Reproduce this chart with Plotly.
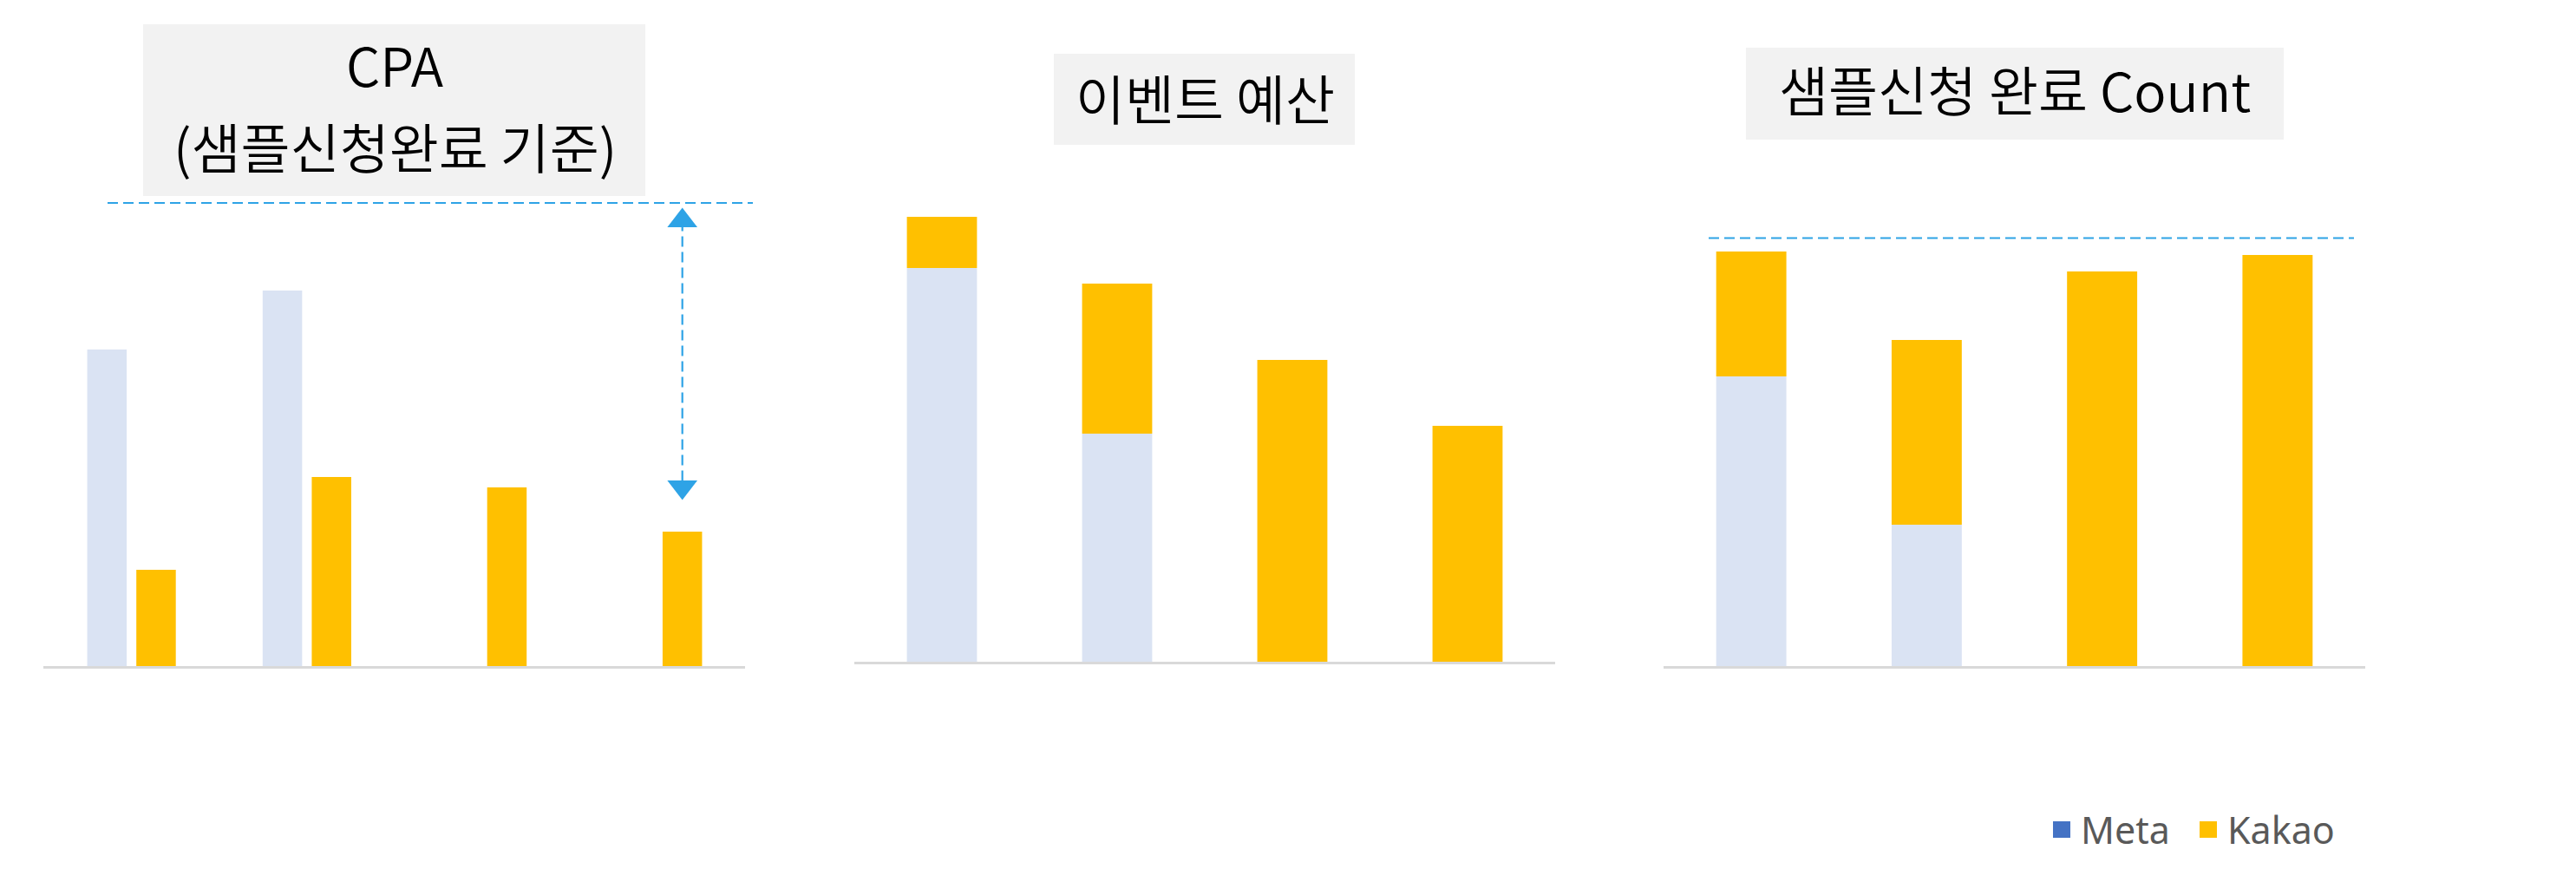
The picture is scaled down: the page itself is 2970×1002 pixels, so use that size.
import plotly.graph_objects as go

W, H = 2970, 1002
PAD = 8                      # default page margin around the plot div
FW, FH = W - 2 * PAD, H - 2 * PAD

# ---------------- data ----------------
categories = ["1", "2", "3", "4"]

cpa_meta = [3650, 4330, None, None]
cpa_kakao = [1110, 2180, 2060, 1550]
cpa_ref = 5340          # dashed reference level
cpa_arrow_end = 1860    # bottom tip of the double arrow

budget_meta = [4540, 2630, 0, 0]
budget_kakao = [590, 1730, 3480, 2720]

count_meta = [334, 163, 0, 0]
count_kakao = [144, 213, 455, 474]
count_ref = 493.5

titles = ["CPA", "(샘플신청완료 기준)", "이벤트 예산", "샘플신청 완료 Count"]
legend_names = ["Meta", "Kakao"]

# ---------------- style ----------------
META = "#DAE3F3"
KAKAO = "#FFC000"
META_LEG = "#4472C4"
REF = "#2EA3E6"
AXIS = "#D9D9D9"
BOX = "#F2F2F2"
TFONT = "Noto Sans CJK KR"

xpos = list(range(len(categories)))  # category index positions


def px(x):
    return (x - PAD) / FW


def py(y):
    return 1 - (y - PAD) / FH


fig = go.Figure()

# chart 1 : grouped bars
fig.add_bar(x=xpos, y=cpa_meta, width=0.225, offset=-0.25,
            marker=dict(color=META, line=dict(width=0)), xaxis="x", yaxis="y",
            name=legend_names[0], showlegend=False, hovertext=categories)
fig.add_bar(x=xpos, y=cpa_kakao, width=0.225, offset=0.03,
            marker=dict(color=KAKAO, line=dict(width=0)), xaxis="x", yaxis="y",
            name=legend_names[1], showlegend=False, hovertext=categories)

# chart 2 : stacked bars
fig.add_bar(x=xpos, y=budget_meta, width=0.4, offset=-0.2,
            marker=dict(color=META, line=dict(width=0)), xaxis="x2", yaxis="y2",
            name=legend_names[0], showlegend=False, hovertext=categories)
fig.add_bar(x=xpos, y=budget_kakao, base=budget_meta, width=0.4, offset=-0.2,
            marker=dict(color=KAKAO, line=dict(width=0)), xaxis="x2", yaxis="y2",
            name=legend_names[1], showlegend=False, hovertext=categories)

# chart 3 : stacked bars
fig.add_bar(x=xpos, y=count_meta, width=0.4, offset=-0.2,
            marker=dict(color=META, line=dict(width=0)), xaxis="x3", yaxis="y3",
            name=legend_names[0], showlegend=False, hovertext=categories)
fig.add_bar(x=xpos, y=count_kakao, base=count_meta, width=0.4, offset=-0.2,
            marker=dict(color=KAKAO, line=dict(width=0)), xaxis="x3", yaxis="y3",
            name=legend_names[1], showlegend=False, hovertext=categories)

# double arrow in chart 1 (at the last Kakao bar centre)
arrow_x = xpos[3] + 0.03 + 0.225 / 2
head = 205  # distance from arrow tip to marker centre, data units
fig.add_trace(go.Scatter(
    x=[arrow_x, arrow_x], y=[cpa_ref - head, cpa_arrow_end + head],
    mode="markers", xaxis="x", yaxis="y", showlegend=False, hoverinfo="skip",
    cliponaxis=False,
    marker=dict(symbol=["triangle-up", "triangle-down"], size=30, color=REF,
                line=dict(width=0))))

shapes = []
# title boxes
for (x0, y0, x1, y1) in [(165, 28, 744, 226), (1215, 62, 1562, 167), (2013, 55, 2633, 161)]:
    shapes.append(dict(type="rect", xref="paper", yref="paper",
                       x0=px(x0), x1=px(x1), y0=py(y1), y1=py(y0),
                       fillcolor=BOX, line=dict(width=0), layer="below"))
# reference lines
shapes.append(dict(type="line", xref="paper", yref="y", x0=px(124), x1=px(868),
                   y0=cpa_ref, y1=cpa_ref, line=dict(color=REF, width=2.2, dash="12px,6px")))
shapes.append(dict(type="line", xref="x", yref="y", x0=arrow_x, x1=arrow_x,
                   y0=cpa_ref - head, y1=cpa_arrow_end + head,
                   line=dict(color=REF, width=2.2, dash="12px,6px")))
shapes.append(dict(type="line", xref="paper", yref="y3", x0=px(1970), x1=px(2714),
                   y0=count_ref, y1=count_ref, line=dict(color=REF, width=2.2, dash="12px,6px")))
# legend squares
shapes.append(dict(type="rect", xref="paper", yref="paper", x0=px(2367), x1=px(2387),
                   y0=py(966), y1=py(947), fillcolor=META_LEG, line=dict(width=0)))
shapes.append(dict(type="rect", xref="paper", yref="paper", x0=px(2536), x1=px(2556),
                   y0=py(966), y1=py(947), fillcolor=KAKAO, line=dict(width=0)))

annotations = [
    dict(text=titles[0], x=px(455), y=py(73)),
    dict(text=titles[1], x=px(455), y=py(168)),
    dict(text=titles[2], x=px(1389), y=py(112)),
    dict(text=titles[3], x=px(2323), y=py(102)),
]
for a in annotations:
    a.update(xref="paper", yref="paper", xanchor="center", yanchor="middle",
             showarrow=False, font=dict(family=TFONT, size=62, color="#000000", weight=350))
annotations += [
    dict(text=legend_names[0], x=px(2397), y=py(956), xref="paper", yref="paper",
         xanchor="left", yanchor="middle", showarrow=False,
         font=dict(family="Noto Sans", size=43, color="#595959")),
    dict(text=legend_names[1], x=px(2566), y=py(956), xref="paper", yref="paper",
         xanchor="left", yanchor="middle", showarrow=False,
         font=dict(family="Noto Sans", size=43, color="#595959")),
]

xa = dict(type="linear", range=[-0.5, 3.5], showline=True, linecolor=AXIS, linewidth=3,
          showticklabels=False, ticks="", showgrid=False, zeroline=False, fixedrange=True)
ya = dict(visible=False, showgrid=False, zeroline=False, fixedrange=True)

fig.update_layout(
    width=FW, height=FH,
    margin=dict(l=0, r=0, t=0, b=0),
    paper_bgcolor="white", plot_bgcolor="rgba(0,0,0,0)",
    barmode="overlay",
    showlegend=False,
    xaxis=dict(xa, domain=[px(50), px(859)], anchor="y"),
    xaxis2=dict(xa, domain=[px(985), px(1793)], anchor="y2"),
    xaxis3=dict(xa, domain=[px(1918), px(2727)], anchor="y3"),
    yaxis=dict(ya, domain=[py(768), py(PAD)], range=[0, 7600], anchor="x"),
    yaxis2=dict(ya, domain=[py(763), py(PAD)], range=[0, 7550], anchor="x2"),
    yaxis3=dict(ya, domain=[py(768), py(PAD)], range=[0, 760], anchor="x3"),
    shapes=shapes,
    annotations=annotations,
)

fig.write_html("out.html")
